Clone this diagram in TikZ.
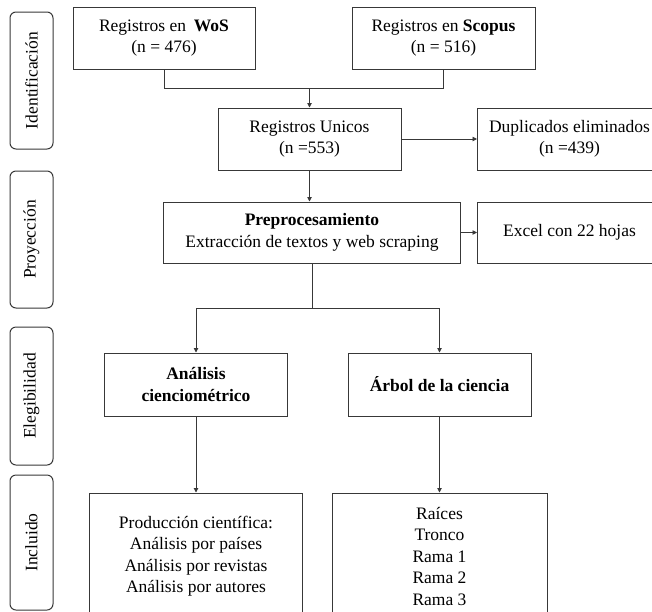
\documentclass[tikz,border=0pt]{standalone}
\usepackage{fontspec}
\setmainfont{Liberation Serif}
\usetikzlibrary{arrows.meta}
\begin{document}
\begin{tikzpicture}[x=1pt,y=-1pt,
  lbl/.style={font=\fontsize{17.5}{21.5}\selectfont},
  box/.style={lbl, draw=black!78, line width=1pt, align=center, inner sep=0pt, fill=white},
  side/.style={lbl, draw=black!78, line width=1pt, rounded corners=6pt, inner sep=0pt,
    rotate=90, minimum height=43pt},
  conn/.style={draw=black!78, line width=0.9pt},
  arr/.style={conn, -{Triangle[length=4.5pt,width=4.5pt]}}]
\clip (0,0) rectangle (652,611);
\fill[white] (0,0) rectangle (652,611);
% side labels
\node[side, minimum width=137pt] (ident) at (31.5,80.5) {Identificación};
\node[side, minimum width=137pt] (proy) at (31.5,239.5) {Proyección};
\node[side, minimum width=138pt] (eleg) at (31.5,396) {Elegibilidad};
\node[side, minimum width=135pt] (incl) at (31.5,542.5) {Incluido};
% boxes
\node[box, minimum width=182pt, minimum height=62pt] (wos) at (164,38)
  {Registros en\hspace{0.45em}\textbf{WoS}\\(n = 476)};
\node[box, minimum width=183pt, minimum height=62pt] (scopus) at (443.5,38)
  {Registros en \textbf{Scopus}\\(n = 516)};
\node[box, minimum width=183pt, minimum height=62pt] (unicos) at (309.5,139)
  {Registros Unicos\\(n =553)};
\node[box, minimum width=184pt, minimum height=62pt] (dup) at (569.5,139)
  {Duplicados eliminados\\(n =439)};
\node[box, minimum width=297pt, minimum height=61pt] (pre) at (312,232.5)
  {\textbf{Preprocesamiento}\\Extracción de textos y web scraping};
\node[box, minimum width=184pt, minimum height=61pt] (excel) at (569.5,232.5)
  {Excel con 22 hojas};
\node[box, minimum width=183pt, minimum height=63pt] (ana) at (196,384.5)
  {\textbf{Análisis}\\\textbf{cienciométrico}};
\node[box, minimum width=183pt, minimum height=63pt] (arbol) at (439.5,384.5)
  {\textbf{Árbol de la ciencia}};
\node[box, minimum width=213pt, minimum height=126pt] (prod) at (196,556)
  {Producción científica:\\Análisis por países\\Análisis por revistas\\Análisis por autores};
\node[box, minimum width=215pt, minimum height=126pt] (raices) at (439.5,556)
  {Raíces\\Tronco\\Rama 1\\Rama 2\\Rama 3};
% connectors
\coordinate (jy) at (0,88);
\coordinate (sy) at (0,308);
\draw[conn] (wos.south) -- (wos.south |- jy) -| (scopus.south);
\draw[arr] (unicos.north |- jy) -- (unicos.north);
\draw[arr] (unicos.east) -- (dup.west);
\draw[arr] (unicos.south) -- (unicos.south |- pre.north);
\draw[arr] (pre.east) -- (excel.west);
\draw[conn] (pre.south) -- (pre.south |- sy);
\draw[arr] (pre.south |- sy) -| (ana.north);
\draw[arr] (pre.south |- sy) -| (arbol.north);
\draw[arr] (ana.south) -- (prod.north);
\draw[arr] (arbol.south) -- (raices.north);
\end{tikzpicture}
\end{document}
